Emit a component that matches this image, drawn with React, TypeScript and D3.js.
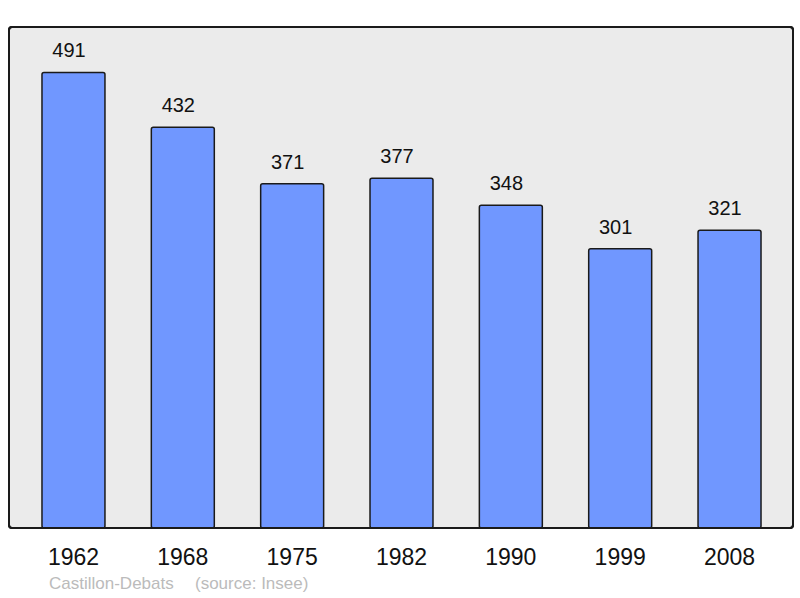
import React from "react";
import * as d3 from "d3";

const years = ["1962", "1968", "1975", "1982", "1990", "1999", "2008"];
const populations = [491, 432, 371, 377, 348, 301, 321];
const commune = "Castillon-Debats";
const source = "(source: Insee)";

export default function App() {
  const W = 800, H = 598;
  const frame = { x0: 9, y0: 27, x1: 793, y1: 528 };
  const x = d3.scaleBand<string>().domain(years).range([18.8, 784.2]).paddingInner(0.424).paddingOuter(0.212);
  const y = d3.scaleLinear().domain([0, 540]).range([528, 27]);
  const font = "'Liberation Sans', Arial, sans-serif";
  return (
    <svg width={W} height={H} style={{ position: "absolute", left: 0, top: 0 }} fontFamily={font}>
      <rect x={frame.x0} y={frame.y0} width={frame.x1 - frame.x0} height={frame.y1 - frame.y0} rx={3} ry={3} fill="#ebebeb" stroke="#1a1a1a" strokeWidth={2} />
      {years.map((yr, i) => {
        const v = populations[i];
        const bx = x(yr)!;
        const bw = x.bandwidth();
        return (
          <g key={yr}>
            <rect x={bx} y={y(v)} width={bw} height={y(0) - y(v)} rx={2} ry={2} fill="#7097ff" stroke="#1a1a1a" strokeWidth={1.5} />
            <text x={bx + bw / 2 - 4.5} y={y(v) - 15} textAnchor="middle" fontSize={20} fill="#111">{v}</text>
            <text x={bx + bw / 2} y={565} textAnchor="middle" fontSize={23} fill="#111">{yr}</text>
          </g>
        );
      })}
      <rect x={frame.x0} y={frame.y0} width={frame.x1 - frame.x0} height={frame.y1 - frame.y0} rx={3} ry={3} fill="none" stroke="#1a1a1a" strokeWidth={2} />
      <text x={49} y={589} fontSize={17} fill="#bbbbbb">{commune}</text>
      <text x={195} y={589} fontSize={17} fill="#bbbbbb">{source}</text>
    </svg>
  );
}
